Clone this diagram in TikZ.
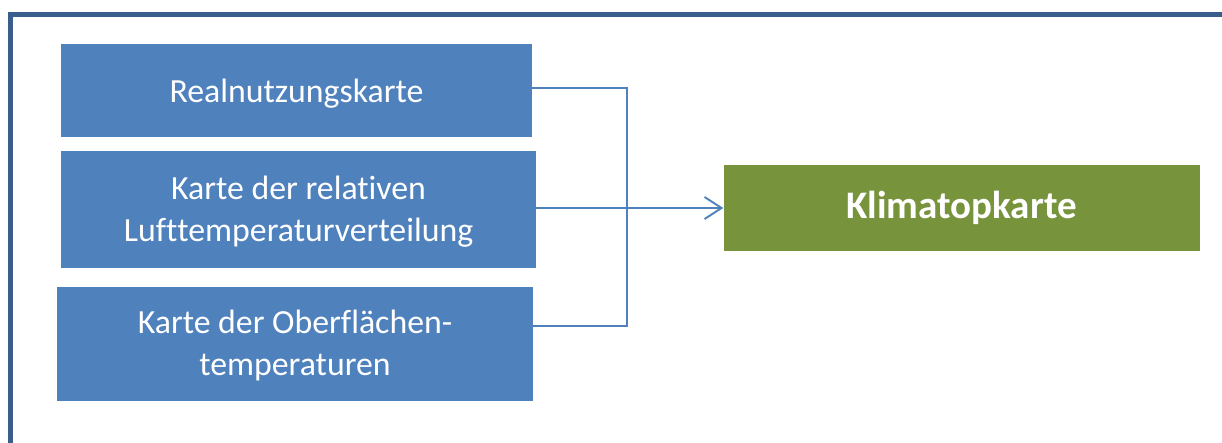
\documentclass[tikz,border=0pt]{standalone}
\usepackage{fontspec}
\setmainfont{Carlito}[Ligatures={NoCommon}]
\usetikzlibrary{arrows.meta}
\definecolor{boxblue}{HTML}{4F81BD}
\definecolor{boxgreen}{HTML}{77933C}
\definecolor{framecol}{HTML}{3A5E8C}
\tikzset{
  srcbox/.style={fill=boxblue, draw=none, inner sep=0pt},
  srctext/.style={text=white, align=center, inner sep=0pt,
    font=\fontsize{33.8}{42}\selectfont},
  tgtbox/.style={fill=boxgreen, draw=none, text=white, align=center, inner sep=0pt,
    font=\fontsize{39}{46}\selectfont\bfseries},
  conn/.style={draw=boxblue, line width=1.9pt},
}
\begin{document}
\begin{tikzpicture}[x=1pt, y=-1pt]
\useasboundingbox (0,0) rectangle (1222,442);
\fill[white] (0,0) rectangle (1222,442);
% frame
\draw[framecol, line width=5pt] (10.5,445) -- (10.5,14.5) -- (1225,14.5);
% boxes
\node[srcbox, minimum width=471pt, minimum height=93pt] (b1) at (296.5,90.5) {};
\node[srctext] (t1) at ([yshift=-3pt]b1.center) {Realnutzungskarte};
\node[srcbox, minimum width=475pt, minimum height=117pt] (b2) at (298.5,209.5) {};
\node[srctext] (t2) at ([yshift=-2pt]b2.center) {Karte der relat\kern0pt iven\\Luf\kern0pt t\kern0pt temperaturverteilung};
\node[srcbox, minimum width=476pt, minimum height=114pt] (b3) at (295,343.5) {};
\node[srctext] (t3) at ([yshift=-2pt]b3.center) {Karte der Oberflächen-\\temperaturen};
\node[tgtbox, minimum width=476pt, minimum height=86pt] (k) at (961.5,208) {Klimatopkarte};
% connectors
\coordinate (j) at (627,208);
\draw[conn] ([yshift=2.5pt]b1.east) -| (j);
\draw[conn] ([yshift=17.5pt]b3.east) -| (j);
\draw[conn, -{Straight Barb[length=17pt, width=22pt, line width=1.9pt]}] (b2.east |- j) -- (k.west |- j);
\end{tikzpicture}
\end{document}
